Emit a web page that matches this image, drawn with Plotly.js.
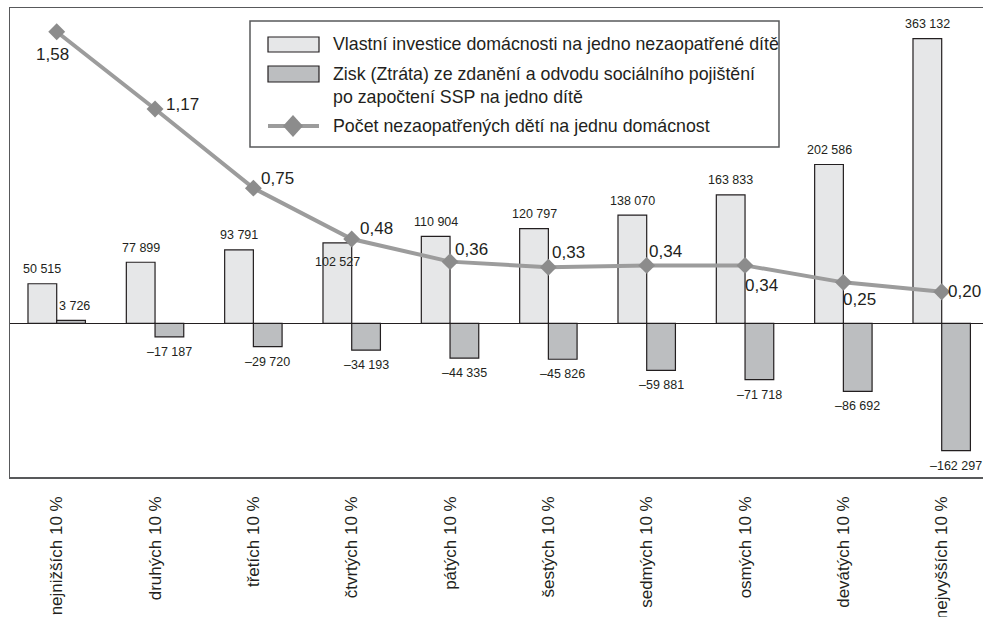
<!DOCTYPE html>
<html>
<head>
<meta charset="utf-8">
<script src="https://cdn.plot.ly/plotly-3.0.1.min.js"></script>
<style>
  html, body { margin: 0; padding: 0; background: #fff; }
  #chart { width: 983px; height: 617px; }
</style>
</head>
<body>
<div id="chart"></div>
<script>
// Income deciles of households
const categories = ['nejnižších 10 %', 'druhých 10 %', 'třetích 10 %', 'čtvrtých 10 %', 'pátých 10 %',
                    'šestých 10 %', 'sedmých 10 %', 'osmých 10 %', 'devátých 10 %', 'nejvyšších 10 %'];

// Own household investment per dependent child (CZK)
const investice = [50515, 77899, 93791, 102527, 110904, 120797, 138070, 163833, 202586, 363132];

// Gain (loss) from taxation and social insurance after state social support, per child (CZK)
const zisk = [3726, -17187, -29720, -34193, -44335, -45826, -59881, -71718, -86692, -162297];

// Number of dependent children per household
const deti = [1.58, 1.17, 0.75, 0.48, 0.36, 0.33, 0.34, 0.34, 0.25, 0.20];

const nameInvestice = 'Vlastní investice domácnosti na jedno nezaopatřené dítě';
const nameZisk = 'Zisk (Ztráta) ze zdanění a odvodu sociálního pojištění<br>po započtení SSP na jedno dítě';
const nameDeti = 'Počet nezaopatřených dětí na jednu domácnost';

// label placement around the line markers, in px (dx, dy; dy up)
const lineLabelShift = [[-4, -23], [27, 5], [24, 10], [25, 11], [21, 12], [20, 15], [19, 14], [16, -20], [16, -17], [23, 0]];

const TEXT = '"Liberation Sans", Arial, Helvetica, sans-serif';
const INK = '#231f20';
const LIGHT = '#e6e7e8';
const DARK = '#bcbec0';
const LINE = '#9c9c9c';
const MARK = '#8c8c8c';
const FRAME = '#58595b';

const X_RANGE = [-0.475, 9.42];
const Y_RANGE = [-196000, 402200];
const Y2_RANGE = [-0.783, 1.706];
const BARGAP = 0.416;
const half = (1 - BARGAP) / 4;   // offset of each bar centre from the category centre

function fmtMoney(v) {
  const s = Math.abs(v).toString().replace(/\B(?=(\d{3})+(?!\d))/g, '\u00a0');
  return (v < 0 ? '\u2013' : '') + s;
}
function fmtRatio(v) {
  return v.toFixed(2).replace('.', ',');
}

const traces = [
  {
    type: 'bar', x: categories, y: investice, name: nameInvestice,
    marker: { color: LIGHT, line: { color: INK, width: 1.2 } },
    hoverinfo: 'skip'
  },
  {
    type: 'bar', x: categories, y: zisk, name: nameZisk,
    marker: { color: DARK, line: { color: INK, width: 1.2 } },
    hoverinfo: 'skip'
  },
  {
    type: 'scatter', mode: 'lines+markers', x: categories, y: deti, yaxis: 'y2', name: nameDeti,
    line: { color: LINE, width: 4 },
    marker: { symbol: 'diamond', size: 13, color: MARK },
    cliponaxis: false,
    hoverinfo: 'skip'
  }
];

const annotations = [];

// value labels above / below the bars
investice.forEach((v, i) => {
  // the fourth label sits inside its bar, under the line label
  const shift = (i === 3) ? -19.5 : 14.5;
  annotations.push({
    x: i - half, y: v, xref: 'x', yref: 'y', text: fmtMoney(v), showarrow: false,
    yshift: shift, font: { family: TEXT, size: 12.5, color: INK }
  });
});
zisk.forEach((v, i) => {
  annotations.push({
    x: i + half, y: v, xref: 'x', yref: 'y', text: fmtMoney(v), showarrow: false,
    xshift: v > 0 ? 3 : 0, yshift: v > 0 ? 14 : -15,
    font: { family: TEXT, size: 12.5, color: INK }
  });
});

// labels on the line
deti.forEach((v, i) => {
  annotations.push({
    x: i, y: v, xref: 'x', yref: 'y2', text: fmtRatio(v), showarrow: false,
    xshift: lineLabelShift[i][0], yshift: lineLabelShift[i][1],
    font: { family: TEXT, size: 17, color: INK }
  });
});

// hand-drawn legend box (pixel positions converted to paper coordinates)
const PL = 10, PR = 983, PT = 8, PB = 477;
const px = x => (x - PL) / (PR - PL);
const py = y => (PB - y) / (PB - PT);

const shapes = [
  { type: 'rect', xref: 'paper', yref: 'paper', x0: px(250), x1: px(779), y0: py(21), y1: py(147),
    fillcolor: '#ffffff', line: { color: FRAME, width: 1.5 }, layer: 'above' },
  { type: 'rect', xref: 'paper', yref: 'paper', x0: px(268), x1: px(319), y0: py(37), y1: py(52),
    fillcolor: LIGHT, line: { color: INK, width: 1.2 }, layer: 'above' },
  { type: 'rect', xref: 'paper', yref: 'paper', x0: px(268), x1: px(319), y0: py(66), y1: py(82),
    fillcolor: DARK, line: { color: INK, width: 1.2 }, layer: 'above' },
  { type: 'line', xref: 'paper', yref: 'paper', x0: px(268), x1: px(319), y0: py(126), y1: py(126),
    line: { color: LINE, width: 4 }, layer: 'above' },
  { type: 'path', xref: 'paper', yref: 'paper', layer: 'above',
    path: `M${px(293)},${py(115)} L${px(303)},${py(126)} L${px(293)},${py(137)} L${px(283)},${py(126)} Z`,
    fillcolor: MARK, line: { color: MARK, width: 0 } }
];

const legendText = [
  [nameInvestice, 44],
  [nameZisk, 85],
  [nameDeti, 126]
];
legendText.forEach(([t, y]) => {
  annotations.push({
    xref: 'paper', yref: 'paper', x: px(331), y: py(y), xanchor: 'left', yanchor: 'middle',
    text: t, align: 'left', showarrow: false,
    font: { family: TEXT, size: 17.8, color: INK }
  });
});

// fraction of the plot height where the value axis crosses zero
const zeroPos = (0 - Y_RANGE[0]) / (Y_RANGE[1] - Y_RANGE[0]);
const boundaries = categories.map((c, i) => i + 0.5);

const layout = {
  width: 983, height: 617,
  margin: { l: PL, r: 983 - PR, t: PT, b: 617 - PB, pad: 0 },
  paper_bgcolor: '#ffffff', plot_bgcolor: '#ffffff',
  showlegend: false,
  barmode: 'group', bargap: BARGAP, bargroupgap: 0,
  font: { family: TEXT, color: INK },
  xaxis: {
    type: 'category', range: X_RANGE, fixedrange: true,
    showline: true, mirror: true, linecolor: FRAME, linewidth: 1.5,
    showgrid: false, zeroline: false, ticks: '',
    tickangle: -90, ticklabelstandoff: 11,
    tickfont: { family: TEXT, size: 17, color: INK }
  },
  xaxis2: {
    overlaying: 'x', anchor: 'free', position: zeroPos, range: X_RANGE, type: 'linear',
    tickvals: boundaries, showticklabels: false, ticks: 'outside', ticklen: 4, tickwidth: 1,
    tickcolor: FRAME, showline: false, showgrid: false, zeroline: false
  },
  xaxis3: {
    overlaying: 'x', anchor: 'free', position: zeroPos, range: X_RANGE, type: 'linear',
    tickvals: boundaries, showticklabels: false, ticks: 'inside', ticklen: 5, tickwidth: 1,
    tickcolor: FRAME, showline: false, showgrid: false, zeroline: false
  },
  yaxis: {
    range: Y_RANGE, fixedrange: true,
    showline: true, linecolor: FRAME, linewidth: 1.5, mirror: false,
    showgrid: false, showticklabels: false, ticks: '',
    zeroline: true, zerolinecolor: INK, zerolinewidth: 1.3
  },
  yaxis2: {
    range: Y2_RANGE, overlaying: 'y', side: 'right', fixedrange: true,
    showline: false, showgrid: false, zeroline: false, showticklabels: false, ticks: ''
  },
  shapes: shapes,
  annotations: annotations
};

Plotly.newPlot('chart', traces, layout, { displayModeBar: false, staticPlot: true });
</script>
</body>
</html>
